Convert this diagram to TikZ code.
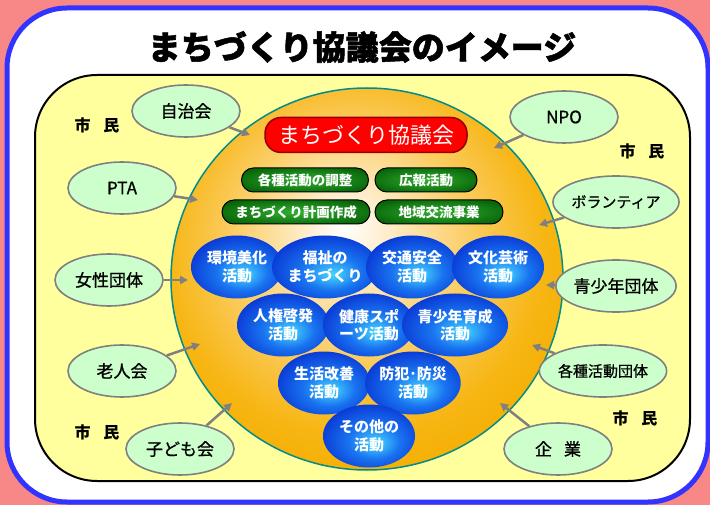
\documentclass[tikz,border=0pt]{standalone}
\usepackage{fontspec}
\newfontfamily\jp{Noto Sans CJK JP}
\newfontfamily\jpm[FakeBold=0.9]{Noto Sans CJK JP}
\newfontfamily\jph[BoldFeatures={FakeBold=1.6}]{Noto Sans CJK JP}
\usetikzlibrary{shapes.geometric,arrows.meta}
\definecolor{bgpink}{RGB}{248,136,136}
\definecolor{frameblue}{RGB}{51,51,255}
\definecolor{yel}{RGB}{255,255,158}
\definecolor{lgreen}{RGB}{204,255,204}
\definecolor{egray}{RGB}{128,128,128}
\definecolor{orbline}{RGB}{0,140,140}
\definecolor{orb1}{RGB}{255,238,205}
\definecolor{orb2}{RGB}{251,205,100}
\definecolor{orb3}{RGB}{247,182,20}
\definecolor{orb4}{RGB}{245,174,0}
\definecolor{bl1}{RGB}{70,215,255}
\definecolor{bl2}{RGB}{25,115,240}
\definecolor{bl3}{RGB}{5,40,205}
\definecolor{bl4}{RGB}{0,5,140}
\definecolor{g1}{RGB}{50,175,50}
\definecolor{g2}{RGB}{10,105,10}
\definecolor{g3}{RGB}{0,55,0}
\definecolor{redline}{RGB}{150,0,0}
\pgfdeclareradialshading{orbshade}{\pgfpoint{-3bp}{7bp}}{color(0bp)=(white); color(5bp)=(orb1); color(15bp)=(orb2); color(24bp)=(orb3); color(30bp)=(orb4); color(50bp)=(orb4)}
\pgfdeclareradialshading{ballshade}{\pgfpoint{4bp}{-6bp}}{color(0bp)=(bl1); color(14bp)=(bl2); color(33bp)=(bl3); color(50bp)=(bl4)}
\pgfdeclareradialshading{pillshade}{\pgfpointorigin}{color(0bp)=(g1); color(28bp)=(g2); color(50bp)=(g3)}
\tikzset{
  outer/.style={ellipse, draw=egray, line width=1.6pt, fill=lgreen, minimum width=108pt, minimum height=52pt, inner sep=0pt, font=\jpm\fontsize{17}{17}\selectfont},
  ball/.style={ellipse, shade, shading=ballshade, minimum width=92pt, minimum height=63pt, inner sep=0pt, text=white, align=center, font=\jp\bfseries\fontsize{15}{17.5}\selectfont},
  pill/.style={rectangle, rounded corners=12pt, draw=black, line width=1pt, shade, shading=pillshade, minimum height=24pt, inner sep=0pt, text=white, font=\jp\bfseries\fontsize{13.5}{14}\selectfont},
  arr/.style={draw=egray, line width=2.5pt, -{Triangle[length=8pt,width=8pt]}},
  shimin/.style={font=\jp\bfseries\fontsize{16}{16}\selectfont}
}
\begin{document}
\begin{tikzpicture}[x=1pt,y=-1pt]
\useasboundingbox (0,0) rectangle (710,505);
\fill[bgpink] (0,0) rectangle (710,505);
\node[rectangle, rounded corners=60pt, draw=frameblue, line width=5pt, fill=white, minimum width=701pt, minimum height=494pt, inner sep=0pt] (panel) at (357.5,255) {};
\node (title) at (362,47) {\jph\bfseries\fontsize{33}{33}\selectfont まちづくり協議会のイメージ};
\node[rectangle, rounded corners=62pt, draw=black, line width=2pt, fill=yel, minimum width=655pt, minimum height=406pt, inner sep=0pt] (area) at (362.5,278) {};
\node[ellipse, draw=orbline, line width=1.5pt, shade, shading=orbshade, minimum width=392pt, minimum height=382pt, inner sep=0pt] (orb) at (367,279) {};
% council
\node[rectangle, rounded corners=16pt, draw=redline, line width=1.5pt, fill=red, minimum width=202pt, minimum height=35pt, inner sep=0pt, text=white, font=\jp\fontsize{22}{22}\selectfont] (kyogikai) at (366,135) {まちづくり協議会};
\node[pill, minimum width=127pt] (chosei) at (305,180) {各種活動の調整};
\node[pill, minimum width=102pt] (koho) at (426,180) {広報活動};
\node[pill, minimum width=148pt] (keikaku) at (296,212) {まちづくり計画作成};
\node[pill, minimum width=128pt] (koryu) at (439,212) {地域交流事業};
% balls
\node[ball] (b1) at (237,267) {環境美化\\活動};
\node[ball] (b2) at (325,267) {福祉の\\まちづくり};
\node[ball] (b3) at (412,267) {交通安全\\活動};
\node[ball] (b4) at (498,267) {文化芸術\\活動};
\node[ball] (b5) at (283,325) {人権啓発\\活動};
\node[ball] (b6) at (369,325) {健康スポ\\ーツ活動};
\node[ball] (b7) at (455,325) {青少年育成\\活動};
\node[ball] (b8) at (324,383) {生活改善\\活動};
\node[ball] (b9) at (413,383) {防犯･防災\\活動};
\node[ball] (b10) at (369,436) {その他の\\活動};
% outer groups
\node[outer] (jichi) at (186,111) {自治会};
\node[outer] (pta) at (122,188) {PTA};
\node[outer] (josei) at (109,280) {女性団体};
\node[outer] (rojin) at (122,371) {老人会};
\node[outer] (kodomo) at (180,449) {子ども会};
\node[outer] (npo) at (564,117) {NPO};
\node[outer, minimum width=110pt, font=\jpm\fontsize{15}{15}\selectfont] (vol) at (616,202) {ボランティア};
\node[outer] (seisho) at (616,286) {青少年団体};
\node[outer, font=\jpm\fontsize{15}{15}\selectfont] (kakushu) at (603,371) {各種活動団体};
\node[outer] (kigyo) at (558,449) {企\hspace{12pt}業};
% shimin
\node[shimin] (s1) at (97,125) {市\hspace{13pt}民};
\node[shimin] (s2) at (642,151) {市\hspace{13pt}民};
\node[shimin] (s3) at (97,432) {市\hspace{13pt}民};
\node[shimin] (s4) at (635,418) {市\hspace{13pt}民};
% arrow targets
\coordinate (t1) at (250,135);
\coordinate (t2) at (198,200);
\coordinate (t3) at (188,280);
\coordinate (t4) at (200,344);
\coordinate (t5) at (232,403);
\coordinate (t6) at (494,148);
\coordinate (t7) at (539,225);
\coordinate (t8) at (546,285);
\coordinate (t9) at (532,345);
\coordinate (t10) at (500,403);
\draw[arr] (jichi) -- (t1);
\draw[arr] (pta) -- (t2);
\draw[arr] (josei) -- (t3);
\draw[arr] (rojin) -- (t4);
\draw[arr] (kodomo) -- (t5);
\draw[arr] (npo) -- (t6);
\draw[arr] (vol) -- (t7);
\draw[arr] (seisho) -- (t8);
\draw[arr] (kakushu) -- (t9);
\draw[arr] (kigyo) -- (t10);
\end{tikzpicture}
\end{document}
